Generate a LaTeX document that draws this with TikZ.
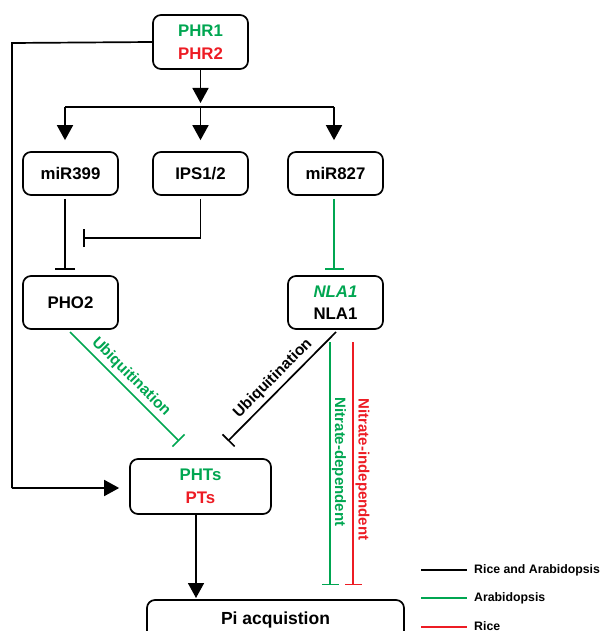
\documentclass[tikz,border=0pt]{standalone}
\usepackage{fontspec}
\setmainfont{Liberation Sans}
\usetikzlibrary{arrows.meta}
\definecolor{agreen}{RGB}{0,166,81}
\definecolor{ared}{RGB}{237,28,36}
\tikzset{
  box/.style={draw=black, line width=1.7pt, rounded corners=8pt, inner sep=0pt,
    align=center, font=\fontsize{16.8}{22.5}\selectfont\bfseries},
  blk/.style={draw=black, line width=1.7pt},
  arr/.style={blk, -{Triangle[width=16pt,length=15pt]}},
  inh/.style={-{Bar[width=#1,line width=1.7pt]}},
  inh/.default=20pt,
  glin/.style={draw=agreen, line width=1.5pt},
  rlin/.style={draw=ared, line width=1.5pt},
  lab/.style={font=\fontsize{15.5}{18}\selectfont\bfseries, inner sep=0pt},
  legtxt/.style={font=\fontsize{12.3}{14}\selectfont\bfseries, anchor=west, inner sep=0pt}
}
\begin{document}
\begin{tikzpicture}[x=1pt,y=-1pt]
\useasboundingbox (0,0) rectangle (603,631);
\clip (0,0) rectangle (603,631);
% boxes
\node[box, minimum width=95pt, minimum height=54pt] (phr) at (200.5,42)
  {\textcolor{agreen}{PHR1}\\\textcolor{ared}{PHR2}};
\node[box, minimum width=95pt, minimum height=43pt] (m399) at (70.5,173.5) {miR399};
\node[box, minimum width=95pt, minimum height=43pt] (ips) at (200.5,173.5) {IPS1/2};
\node[box, minimum width=95pt, minimum height=43pt] (m827) at (335.5,173.5) {miR827};
\node[box, minimum width=95pt, minimum height=53pt] (pho2) at (70.5,302.5) {PHO2};
\node[box, minimum width=95pt, minimum height=53pt] (nla) at (335.5,302.5)
  {\textcolor{agreen}{\itshape NLA1}\\NLA1};
\node[box, minimum width=141pt, minimum height=55pt] (phts) at (200.5,486.5)
  {\textcolor{agreen}{PHTs}\\\textcolor{ared}{PTs}};
\node[box, minimum width=257pt, minimum height=44pt, font=\fontsize{17.5}{20}\selectfont\bfseries] (pi) at (275.5,622)
  {\raisebox{8pt}{Pi acquistion}};
% coordinates
\coordinate (hubL) at (65,107);
\coordinate (hub) at (200.5,107);
\coordinate (hubR) at (334,107);
\coordinate (hubtip) at (200.5,103);
\coordinate (ipsend) at (83,238);
\coordinate (phoS) at (70,332);
\coordinate (phoE) at (179,441);
\coordinate (nlaS) at (336,332);
\coordinate (nlaE) at (228,441);
\coordinate (gS) at (330,342);
\coordinate (gE) at (330,585);
\coordinate (rS) at (353,342);
\coordinate (rE) at (353,585);
\coordinate (fbA) at (12,43);
\coordinate (fbB) at (12,488);
% PHR down to hub
\draw[arr] (phr.south) -- (hubtip);
\draw[blk] (hubL) -- (hubR);
\draw[arr, shorten >=11pt] (hubL) -- (hubL |- m399.north);
\draw[arr, shorten >=11pt] (hub) -- (ips.north);
\draw[arr, shorten >=11pt] (hubR) -- (hubR |- m827.north);
% inhibitions
\draw[blk, inh, shorten <=3pt, shorten >=5.5pt] (hubL |- m399.south) -- (hubL |- pho2.north);
\draw[blk, inh=18pt] ([yshift=-3pt]ips.south) |- (ipsend);
\draw[glin, -{Bar[width=19pt,line width=1.5pt]}, shorten <=3pt, shorten >=5.5pt] (hubR |- m827.south) -- (hubR |- nla.north);
% diagonals
\draw[glin, -{Bar[width=17pt,line width=1.5pt]}] (phoS) -- (phoE);
\node[lab, text=agreen, rotate=-45] (ubi1) at (131,377) {Ubiquitination};
\draw[blk, -{Bar[width=17pt,line width=1.7pt]}] (nlaS) -- (nlaE);
\node[lab, rotate=45] (ubi2) at (273,378.5) {Ubiquitination};
% nitrate
\draw[glin, -{Bar[width=17pt,line width=1.5pt]}] (gS) -- (gE);
\node[lab, font=\fontsize{15}{18}\selectfont\bfseries, text=agreen, rotate=-90] (nd) at (339,462) {Nitrate-dependent};
\draw[rlin, -{Bar[width=17pt,line width=1.5pt]}] (rS) -- (rE);
\node[lab, font=\fontsize{15}{18}\selectfont\bfseries, text=ared, rotate=-90] (ni) at (362.5,469.5) {Nitrate-independent};
% PHTs -> Pi
\draw[arr] (196,514) -- (196,598);
% feedback
\draw[blk] (phr.west) -- (fbA) -- (fbB);
\draw[arr, shorten >=10pt] (fbB) -- (fbB -| phts.west);
% legend
\coordinate (l1a) at (421,570); \coordinate (l1b) at (467,570);
\coordinate (l2a) at (421,598); \coordinate (l2b) at (467,598);
\coordinate (l3a) at (421,627); \coordinate (l3b) at (467,627);
\draw[blk, line width=1.3pt] (l1a) -- (l1b);
\draw[glin] (l2a) -- (l2b);
\draw[rlin] (l3a) -- (l3b);
\node[legtxt] (t1) at (474,570) {Rice and Arabidopsis};
\node[legtxt] (t2) at (474,598) {Arabidopsis};
\node[legtxt] (t3) at (474,626.5) {Rice};
\end{tikzpicture}
\end{document}
